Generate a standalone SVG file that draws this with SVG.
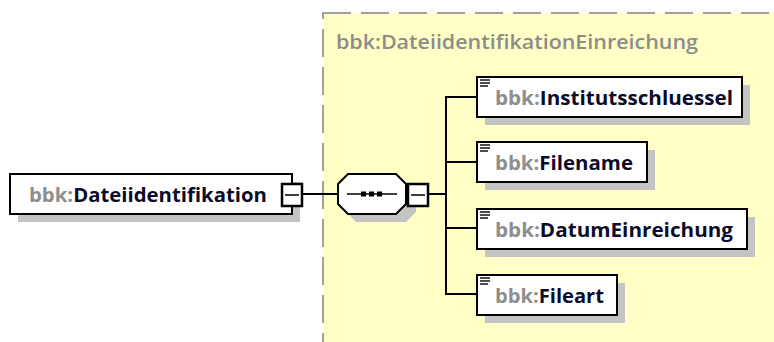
<svg xmlns="http://www.w3.org/2000/svg" width="774" height="342" viewBox="0 0 774 342">
  <defs>
    <style>
      .shadow { fill: #c4c4c4; }
      .box { fill: #ffffff; stroke: #000000; stroke-width: 2; }
      .conn { fill: none; stroke: #000000; stroke-width: 2; }
      .btn { fill: #ffffff; stroke: #000000; stroke-width: 2.5; }
      .minus { stroke: #000000; stroke-width: 1.5; }
      .icon { stroke: #000000; stroke-width: 1.4; }
      .label { font-family: "Open Sans", "Liberation Sans", sans-serif; font-size: 20px; font-weight: 700; fill: #0b0b2a; }
      .ns { fill: #8e8e8e; }
      .title { font-family: "Open Sans", "Liberation Sans", sans-serif; font-size: 20px; font-weight: 600; fill: #8c8c8c; }
    </style>
    <!-- collapse button: white square with a minus sign -->
    <g id="collapse">
      <rect class="btn" x="0" y="0" width="20" height="22"/>
      <line class="minus" x1="3" y1="11" x2="17" y2="11"/>
    </g>
    <!-- element icon drawn in the corner of each child element -->
    <g id="elemIcon">
      <line class="icon" x1="3" y1="3" x2="13" y2="3"/>
      <line class="icon" x1="3" y1="6" x2="13" y2="6"/>
      <line class="icon" x1="3" y1="9" x2="11" y2="9"/>
    </g>
  </defs>

  <rect x="0" y="0" width="774" height="342" fill="#ffffff"/>

  <!-- complex type area -->
  <g id="complexType">
    <rect x="323" y="13" width="470" height="350" fill="#ffffc6" stroke="#a0a0a0" stroke-width="2" stroke-dasharray="28 10"/>
    <text class="title" x="336" y="49" textLength="362" lengthAdjust="spacingAndGlyphs">bbk:DateiidentifikationEinreichung</text>
  </g>

  <!-- connectors -->
  <g id="connectors">
    <line class="conn" x1="303" y1="194" x2="338" y2="194"/>
    <line class="conn" x1="428" y1="194" x2="446" y2="194"/>
    <line class="conn" x1="446" y1="96" x2="446" y2="295"/>
    <line class="conn" x1="446" y1="97" x2="477" y2="97"/>
    <line class="conn" x1="446" y1="162" x2="477" y2="162"/>
    <line class="conn" x1="446" y1="228" x2="477" y2="228"/>
    <line class="conn" x1="446" y1="294" x2="477" y2="294"/>
  </g>

  <!-- root element -->
  <g id="node-Dateiidentifikation">
    <rect class="shadow" x="18" y="182" width="282" height="40"/>
    <rect class="box" x="10" y="174" width="282" height="40"/>
    <text class="label" x="29" y="202" textLength="238" lengthAdjust="spacingAndGlyphs"><tspan class="ns">bbk:</tspan>Dateiidentifikation</text>
    <use href="#collapse" x="282" y="184"/>
  </g>

  <!-- sequence compositor -->
  <g id="node-sequence">
    <polygon class="shadow" points="356,182 406,182 416,192 416,212 406,222 356,222 346,212 346,192"/>
    <polygon class="box" points="348,174 396,174 406,184 406,204 396,214 348,214 338,204 338,184"/>
    <line x1="347" y1="194" x2="397" y2="194" stroke="#000000" stroke-width="1.5"/>
    <rect x="361" y="191.5" width="5" height="5" fill="#000000"/>
    <rect x="369" y="191.5" width="5" height="5" fill="#000000"/>
    <rect x="377" y="191.5" width="5" height="5" fill="#000000"/>
    <use href="#collapse" x="408" y="184"/>
  </g>

  <!-- child elements -->
  <g id="node-Institutsschluessel">
    <rect class="shadow" x="485" y="85" width="265" height="40"/>
    <rect class="box" x="477" y="77" width="265" height="40"/>
    <use href="#elemIcon" x="477" y="77"/>
    <text class="label" x="495" y="105" textLength="238" lengthAdjust="spacingAndGlyphs"><tspan class="ns">bbk:</tspan>Institutsschluessel</text>
  </g>

  <g id="node-Filename">
    <rect class="shadow" x="485" y="150" width="170" height="40"/>
    <rect class="box" x="477" y="142" width="170" height="40"/>
    <use href="#elemIcon" x="477" y="142"/>
    <text class="label" x="495" y="170" textLength="138" lengthAdjust="spacingAndGlyphs"><tspan class="ns">bbk:</tspan>Filename</text>
  </g>

  <g id="node-DatumEinreichung">
    <rect class="shadow" x="485" y="217" width="270" height="40"/>
    <rect class="box" x="477" y="209" width="270" height="40"/>
    <use href="#elemIcon" x="477" y="209"/>
    <text class="label" x="495" y="237" textLength="238" lengthAdjust="spacingAndGlyphs"><tspan class="ns">bbk:</tspan>DatumEinreichung</text>
  </g>

  <g id="node-Fileart">
    <rect class="shadow" x="485" y="283" width="140" height="40"/>
    <rect class="box" x="477" y="275" width="140" height="40"/>
    <use href="#elemIcon" x="477" y="275"/>
    <text class="label" x="495" y="303" textLength="109" lengthAdjust="spacingAndGlyphs"><tspan class="ns">bbk:</tspan>Fileart</text>
  </g>
</svg>
